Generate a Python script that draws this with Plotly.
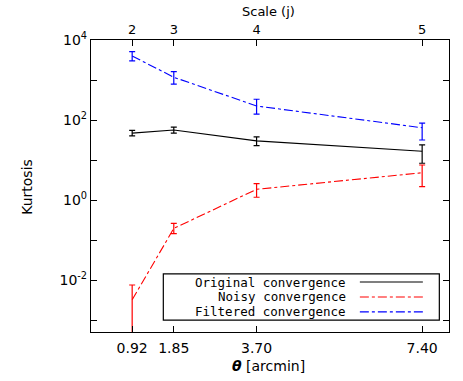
import numpy as np
import plotly.graph_objects as go

# angular scale (arcmin) and the matching wavelet scale j
theta = [0.92, 1.85, 3.70, 7.40]
scales = ["2", "3", "4", "5"]

# kurtosis values, with upper / lower error bounds
orig = [47, 56, 30, 16.5]
orig_hi = [55, 66, 38, 24]
orig_lo = [40, 47, 23, 8.3]

noisy = [0.0032, 0.195, 1.85, 4.8]
noisy_hi = [0.0075, 0.26, 2.57, 7.5]
noisy_lo = [1e-5, 0.145, 1.17, 2.15]

filt = [4000, 1170, 224, 64]
filt_hi = [5100, 1620, 330, 84]
filt_lo = [3000, 790, 141, 31.6]

y_decades = [-3, -2, -1, 0, 1, 2, 3, 4]
y_labels = ["", "10<sup>-2</sup>", "", "10<sup>0</sup>", "", "10<sup>2</sup>", "", "10<sup>4</sup>"]

legend_names = ["Original convergence", "Noisy convergence", "Filtered convergence"]
colors = ["black", "red", "blue"]
dashes = ["solid", "dashdot", "dashdot"]

FONT = "DejaVu Sans"
LEG_FONT = "DejaVu Sans Mono"


def err(val, hi, lo):
    v, h, l = np.array(val), np.array(hi), np.array(lo)
    return dict(type="data", symmetric=False, array=h - v, arrayminus=v - l,
                thickness=1.2, width=3)


fig = go.Figure()
series = [(orig, orig_hi, orig_lo), (noisy, noisy_hi, noisy_lo), (filt, filt_hi, filt_lo)]
for (val, hi, lo), name, c, d in zip(series, legend_names, colors, dashes):
    e = err(val, hi, lo)
    e["color"] = c
    fig.add_trace(go.Scatter(
        x=theta, y=val, mode="lines", name=name,
        line=dict(color=c, width=1.1, dash=d),
        error_y=e, hoverinfo="skip", showlegend=False,
    ))

# invisible trace so the top axis exists
fig.add_trace(go.Scatter(x=theta, y=orig, xaxis="x2", mode="none",
                         showlegend=False, hoverinfo="skip"))

axis_common = dict(showline=True, linecolor="black", linewidth=1.2,
                   ticks="inside", ticklen=6, tickcolor="black",
                   showgrid=False, zeroline=False, automargin=False,
                   tickfont=dict(family=FONT, size=14, color="black"))

fig.update_layout(
    width=463, height=381,
    margin=dict(l=91, r=14, t=40, b=49),
    paper_bgcolor="white", plot_bgcolor="white",
    font=dict(family=FONT, size=14, color="black"),
    xaxis=dict(range=[0, 8], tickvals=theta,
               ticktext=["%.2f" % t for t in theta],
               ticklabelstandoff=3,
               **axis_common),
    xaxis2=dict(range=[0, 8], overlaying="x", side="top", tickvals=theta,
                ticktext=scales, anchor="y",
                **axis_common),
    yaxis=dict(type="log", range=[-3.3, 4], mirror="ticks",
               tickvals=[10.0 ** k for k in y_decades], ticktext=y_labels,
               **axis_common),
)
fig.update_xaxes(tickfont_size=13, selector=dict(side="top"))

# axis titles placed by hand
titles = [
    dict(text="Scale (j)", x=0.495, y=1.096, textangle=0, size=13),
    dict(text="<b><i>θ</i></b> [arcmin]", x=0.495, y=-0.116, textangle=0, size=14),
    dict(text="Kurtosis", x=-0.179, y=0.497, textangle=-90, size=14),
]
for t in titles:
    fig.add_annotation(x=t["x"], y=t["y"], xref="paper", yref="paper", text=t["text"],
                       textangle=t["textangle"], showarrow=False,
                       xanchor="center", yanchor="middle",
                       font=dict(family=FONT, size=t["size"], color="black"))

# legend drawn IDL-style: text right-aligned, line sample on the right
fig.add_shape(type="rect", xref="paper", yref="paper",
              x0=0.202, x1=0.973, y0=0.041, y1=0.199,
              line=dict(color="black", width=1.2), fillcolor="white", layer="above")
rows = [0.171, 0.120, 0.069]
for name, c, d, yy in zip(legend_names, colors, dashes, rows):
    fig.add_annotation(x=0.718, y=yy, xref="paper", yref="paper", text=name,
                       showarrow=False, xanchor="right", yanchor="middle",
                       font=dict(family=LEG_FONT, size=12.5, color="black"))
    fig.add_shape(type="line", xref="paper", yref="paper",
                  x0=0.751, x1=0.927, y0=yy, y1=yy,
                  line=dict(color=c, width=1.1, dash=d), layer="above")

# drop the default page margin so the figure fills the window exactly
fig.write_html("out.html", config={"displayModeBar": False},
               post_script="document.body.style.margin='0px';")
